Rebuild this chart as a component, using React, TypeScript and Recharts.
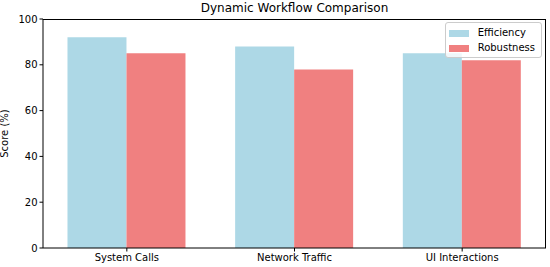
import React from "react";
import { Bar, BarChart, XAxis, YAxis } from "recharts";

const categories = ["System Calls", "Network Traffic", "UI Interactions"];
const efficiency = [92, 88, 85];
const robustness = [85, 78, 82];
const yTicks = [0, 20, 40, 60, 80, 100];

const EFF_COLOR = "#add8e6";
const ROB_COLOR = "#f08080";
const FONT = "DejaVu Sans, sans-serif";

const data = categories.map((name, i) => ({
  name,
  Efficiency: efficiency[i],
  Robustness: robustness[i],
}));

// plot box, in page pixels
const PLOT = { left: 43, top: 19, width: 503, height: 229 };

const LegendBox = () => (
  <div
    style={{
      position: "absolute",
      top: 22,
      right: 8,
      border: "1px solid #cccccc",
      borderRadius: 3,
      background: "rgba(255,255,255,0.8)",
      padding: "2px 6px 2px 3px",
      fontFamily: FONT,
      fontSize: 10,
      lineHeight: "14px",
      color: "#000",
    }}
  >
    {[
      { label: "Efficiency", color: EFF_COLOR },
      { label: "Robustness", color: ROB_COLOR },
    ].map((item) => (
      <div key={item.label} style={{ display: "flex", alignItems: "center", marginTop: 1 }}>
        <span
          style={{
            display: "inline-block",
            width: 20,
            height: 7,
            background: item.color,
            marginRight: 9,
          }}
        />
        <span>{item.label}</span>
      </div>
    ))}
  </div>
);

const App: React.FC = () => {
  return (
    <div style={{ position: "absolute", left: 0, top: 0, width: 550, height: 267, background: "#fff" }}>
      <div
        style={{
          position: "absolute",
          left: PLOT.left,
          width: PLOT.width,
          top: 1,
          textAlign: "center",
          fontFamily: FONT,
          fontSize: 12,
          color: "#000",
        }}
      >
        Dynamic Workflow Comparison
      </div>
      <BarChart
        width={550}
        height={267}
        data={data}
        margin={{ top: PLOT.top, right: 550 - PLOT.left - PLOT.width, bottom: 0, left: 0 }}
        barCategoryGap="14.6%"
        barGap={0}
      >
        <XAxis
          dataKey="name"
          height={19}
          stroke="#000"
          tickSize={3.5}
          tickMargin={2}
          tick={{ fill: "#000", fontSize: 10, fontFamily: FONT }}
          interval={0}
        />
        <YAxis
          domain={[0, 100]}
          ticks={yTicks}
          width={PLOT.left}
          stroke="#000"
          tickSize={3.5}
          tickMargin={2}
          tick={{ fill: "#000", fontSize: 10, fontFamily: FONT }}
          label={{
            value: "Score (%)",
            angle: -90,
            position: "insideLeft",
            offset: 4,
            style: { textAnchor: "middle", fill: "#000", fontSize: 10, fontFamily: FONT },
          }}
        />
        <Bar dataKey="Efficiency" fill={EFF_COLOR} isAnimationActive={false} />
        <Bar dataKey="Robustness" fill={ROB_COLOR} isAnimationActive={false} />
      </BarChart>
      {/* top and right spines */}
      <div
        style={{
          position: "absolute",
          left: PLOT.left,
          top: PLOT.top - 0.5,
          width: PLOT.width,
          height: PLOT.height,
          borderTop: "1px solid #000",
          borderRight: "1px solid #000",
          boxSizing: "border-box",
          pointerEvents: "none",
        }}
      />
      <LegendBox />
    </div>
  );
};

export default App;
